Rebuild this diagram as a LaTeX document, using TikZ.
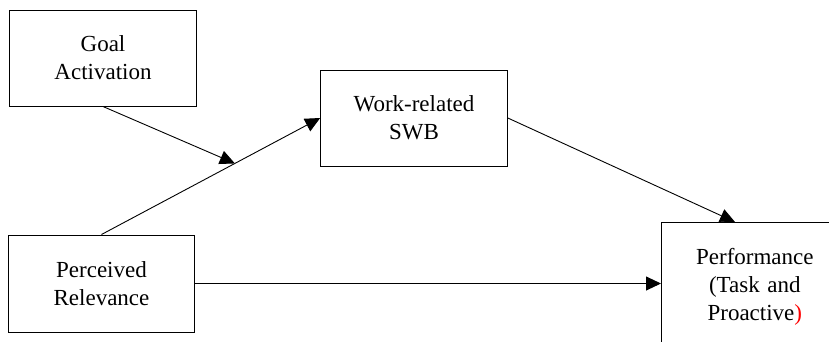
\documentclass[tikz,border=0pt]{standalone}
\usepackage{fontspec}
\setmainfont{Liberation Serif}
\usetikzlibrary{arrows.meta, positioning}
\tikzstyle{construct} = [rectangle, minimum width=185pt, minimum height=96pt, text centered, text width=180pt, draw=black, line width=1pt, font=\fontsize{23}{28}\selectfont]
\tikzstyle{arrow} = [line width=0.9pt, -{Triangle[length=15pt, width=14pt]}]

\begin{document}
\begin{tikzpicture}[x=1pt, y=-1pt]
\useasboundingbox (0,0) rectangle (829,341);
\clip (0,0) rectangle (829,341);

\node (goal) [construct] at (103,58) {Goal\\Activation};
\node (perc) [construct, minimum width=183pt, minimum height=97pt] at (101.5,283.5) {Perceived\\Relevance};
\node (swb) [construct, minimum width=184pt] at (414,118) {Work-related\\SWB};
\node (perf) [construct, anchor=north west, minimum width=178pt, minimum height=128pt] at (661,222) {Performance\\(Task and\\Proactive\textcolor{red}{)}};

% moderation arrow meets the path
\draw [arrow] (perc.north) -- coordinate[pos=0.61] (moderate) (swb.west);
\draw [arrow] (goal.south) -- (moderate);

\coordinate (perftop) at (735,222);
\draw [arrow] (swb.east) -- (perftop);
\draw [arrow] (perc.east) -- (perc.east -| perf.west);

\end{tikzpicture}
\end{document}
